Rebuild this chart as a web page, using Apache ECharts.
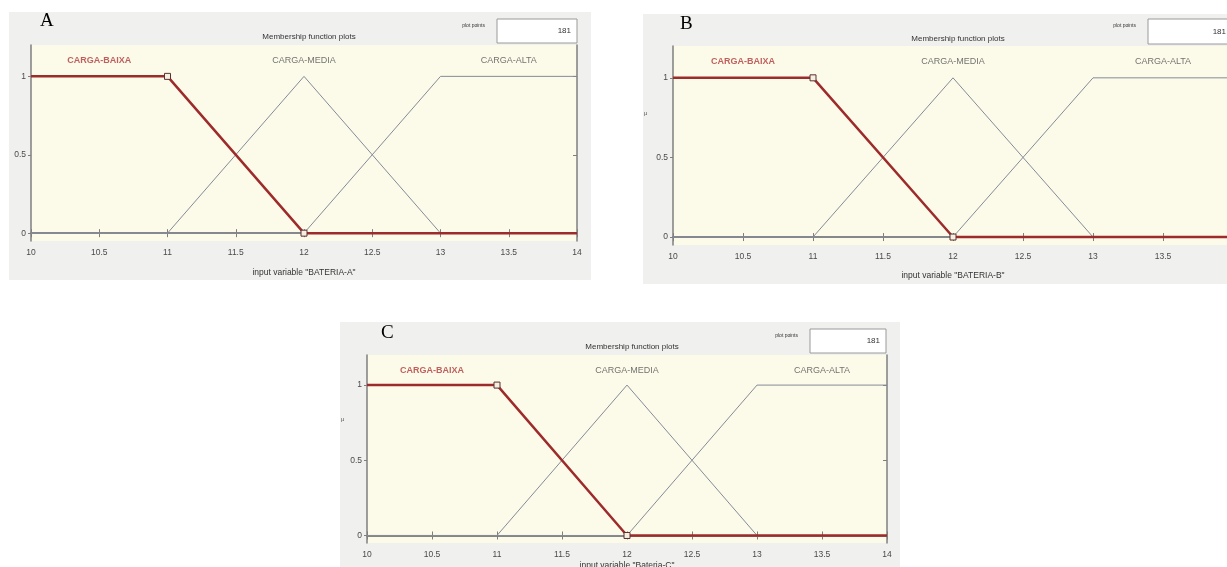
<!DOCTYPE html>
<html>
<head>
<meta charset="utf-8">
<script src="https://cdn.jsdelivr.net/npm/echarts@6/dist/echarts.min.js"></script>
<style>
  html, body { margin: 0; padding: 0; background: #fff; }
  #chart { width: 1227px; height: 567px; }
</style>
</head>
<body>
<div id="chart"></div>
<script>
// membership functions (same for the three batteries)
const mfNames = ['CARGA-BAIXA', 'CARGA-MEDIA', 'CARGA-ALTA'];
const baixaX = [10, 11, 12, 14];
const baixaY = [1, 1, 0, 0];
const mediaX = [10, 11, 12, 13, 14];
const mediaY = [0, 0, 1, 0, 0];
const altaX = [10, 12, 13, 14];
const altaY = [0, 0, 1, 1];
const labelX = [10.5, 12, 13.5];
const labelY = 1.1;
const yTicks = [0, 0.5, 1];
const panelTags = ['A', 'B', 'C'];
const varNames = ['input variable "BATERIA-A"', 'input variable "BATERIA-B"', 'input variable "Bateria-C"'];
const plotPoints = [181, 181, 181];

// layout of each panel (px)
const boxes = [
  { left: 31, top: 45, width: 546, height: 196, gap: 27, titleTop: 28, bg: [9, 12, 582, 268], tag: [40, 12], ptBox: [497, 19, 80, 24] },
  { left: 673, top: 46, width: 560, height: 199, gap: 26, titleTop: 30, bg: [643, 14, 590, 270], tag: [680, 15], ptBox: [1148, 19, 84, 25] },
  { left: 367, top: 355, width: 520, height: 188, gap: 18, titleTop: 338, bg: [340, 322, 560, 245], tag: [381, 324], ptBox: [810, 329, 76, 24] }
];

const gridColor = '#7f7f7f';
const txt = '#4a4a4a';
const zip = (xs, ys) => xs.map((x, i) => [x, ys[i]]);

const grids = [], xAxes = [], yAxes = [], series = [], titles = [], graphics = [];

boxes.forEach((b, i) => {
  graphics.push({
    type: 'rect', z: -10,
    shape: { x: b.bg[0], y: b.bg[1], width: b.bg[2], height: b.bg[3] },
    style: { fill: '#f0f0ee' }
  });
  graphics.push({
    type: 'text', left: b.tag[0], top: b.tag[1],
    style: { text: panelTags[i], font: '19px "Liberation Serif"', fill: '#000' }
  });
  graphics.push({
    type: 'rect',
    shape: { x: b.ptBox[0], y: b.ptBox[1], width: b.ptBox[2], height: b.ptBox[3] },
    style: { fill: '#ffffff', stroke: '#9a9a9a', lineWidth: 1 }
  });
  graphics.push({
    type: 'text', x: b.ptBox[0] + b.ptBox[2] - 6, y: b.ptBox[1] + b.ptBox[3] / 2,
    style: { text: String(plotPoints[i]), font: '8px "Liberation Sans"', fill: '#333', align: 'right', verticalAlign: 'middle' }
  });
  graphics.push({
    type: 'text', x: b.ptBox[0] - 12, y: b.ptBox[1] + 7,
    style: { text: 'plot points', font: '5px "Liberation Sans"', fill: '#333', align: 'right', verticalAlign: 'middle' }
  });
  if (i > 0) {
    // squashed y-axis name, visible only as a tiny mark
    graphics.push({
      type: 'text', x: b.bg[0] + 1, y: b.top + b.height * 0.34,
      style: { text: 'μ', font: '6px "Liberation Sans"', fill: '#555', align: 'left', verticalAlign: 'middle' }
    });
  }

  grids.push({
    left: b.left, top: b.top, width: b.width, height: b.height,
    show: true, backgroundColor: '#fcfbea', borderWidth: 0,
    outerBoundsMode: 'none'
  });
  titles.push({
    text: 'Membership function plots',
    left: b.left + b.width / 2, top: b.titleTop, textAlign: 'center',
    textStyle: { fontSize: 8, fontWeight: 'normal', color: '#333', fontFamily: 'Liberation Sans' }
  });

  const axLine = { show: true, lineStyle: { color: gridColor, width: 1.5 } };
  const tick = { inside: true, length: 4, lineStyle: { color: gridColor } };
  xAxes.push({
    type: 'value', gridIndex: i, min: 10, max: 14, interval: 0.5, position: 'bottom',
    name: varNames[i], nameLocation: 'middle', nameGap: b.gap,
    nameTextStyle: { fontSize: 8.5, color: '#333', fontFamily: 'Liberation Sans' },
    axisLine: axLine, axisTick: tick,
    axisLabel: { fontSize: 8.5, color: txt, margin: 7, fontFamily: 'Liberation Sans' },
    splitLine: { show: false }
  });
  xAxes.push({
    type: 'value', gridIndex: i, min: 10, max: 14, interval: 0.5, position: 'top',
    axisLine: axLine, axisTick: tick,
    axisLabel: { show: false }, splitLine: { show: false }
  });
  yAxes.push({
    type: 'value', gridIndex: i, min: -0.05, max: 1.2, position: 'left',
    axisLine: axLine,
    axisTick: { customValues: yTicks, inside: false, length: 3, lineStyle: { color: gridColor } },
    axisLabel: { customValues: yTicks, fontSize: 8.5, color: txt, margin: 5, fontFamily: 'Liberation Sans' },
    splitLine: { show: false }
  });
  yAxes.push({
    type: 'value', gridIndex: i, min: -0.05, max: 1.2, position: 'right',
    axisLine: axLine,
    axisTick: { customValues: yTicks, inside: true, length: 4, lineStyle: { color: gridColor } },
    axisLabel: { show: false }, splitLine: { show: false }
  });

  const xi = i * 2, yi = i * 2;
  series.push({
    type: 'line', xAxisIndex: xi, yAxisIndex: yi, data: zip(mediaX, mediaY),
    symbol: 'none', lineStyle: { color: '#868a97', width: 1 }, animation: false, z: 2
  });
  series.push({
    type: 'line', xAxisIndex: xi, yAxisIndex: yi, data: zip(altaX, altaY),
    symbol: 'none', lineStyle: { color: '#868a97', width: 1 }, animation: false, z: 2
  });
  series.push({
    type: 'line', xAxisIndex: xi, yAxisIndex: yi, data: zip(baixaX, baixaY),
    symbol: (v, p) => (p.dataIndex === 1 || p.dataIndex === 2) ? 'rect' : 'none',
    symbolSize: 6, showSymbol: true,
    itemStyle: { color: '#f4efe0', borderColor: '#5a3030', borderWidth: 1 },
    lineStyle: { color: '#9e2b2b', width: 2.5 }, animation: false, z: 3
  });
  series.push({
    type: 'scatter', xAxisIndex: xi, yAxisIndex: yi,
    data: labelX.map((x, k) => ({
      value: [x, labelY],
      label: {
        show: true, position: 'inside', formatter: mfNames[k],
        fontSize: 9, fontFamily: 'Liberation Sans',
        color: k === 0 ? '#b0383a' : '#505050', fontWeight: k === 0 ? 'bold' : 'normal'
      }
    })),
    symbolSize: 0, silent: true, animation: false
  });
});

const chart = echarts.init(document.getElementById('chart'));
chart.setOption({
  backgroundColor: '#ffffff',
  animation: false,
  title: titles,
  grid: grids,
  xAxis: xAxes,
  yAxis: yAxes,
  series: series,
  graphic: graphics
});
</script>
</body>
</html>
